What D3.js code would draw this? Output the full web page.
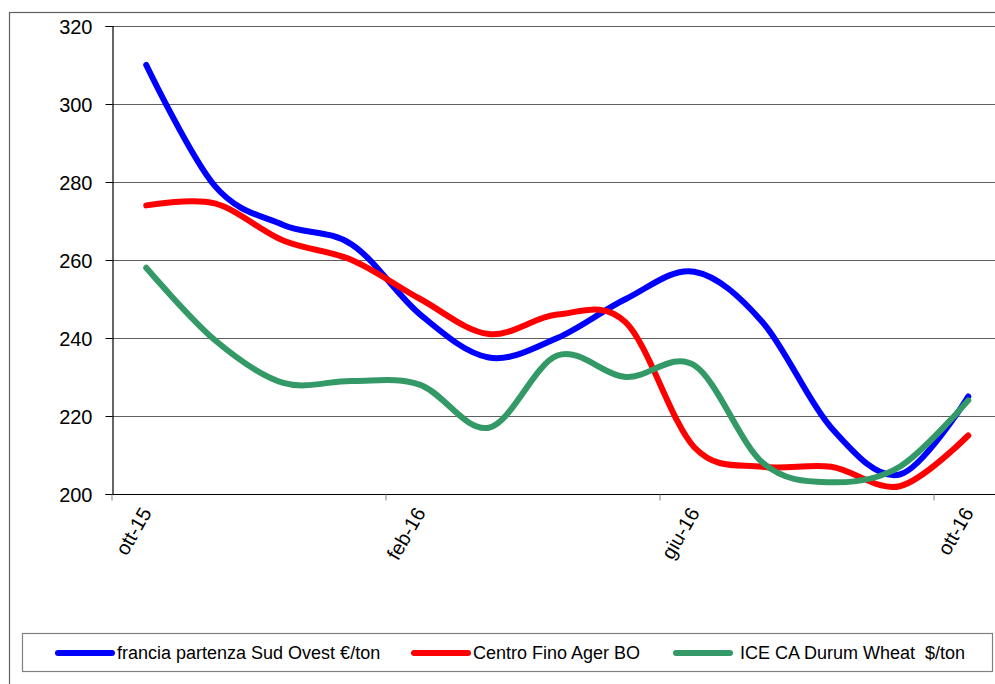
<!DOCTYPE html>
<html>
<head>
<meta charset="utf-8">
<script src="https://cdn.jsdelivr.net/npm/d3@7"></script>
<style>
  body { margin: 0; background: #fff; }
  svg text { font-family: "Liberation Sans", Arial, sans-serif; fill: #000; white-space: pre; }
</style>
</head>
<body>
<div id="chart"></div>
<script>
// months (category axis), one point per month
var months = ['ott-15','nov-15','dic-15','gen-16','feb-16','mar-16','apr-16',
              'mag-16','giu-16','lug-16','ago-16','set-16','ott-16'];
var labelMonths = ['ott-15','feb-16','giu-16','ott-16'];
var yTicks = [200, 220, 240, 260, 280, 300, 320];

var seriesNames = ['francia partenza Sud Ovest \u20ac/ton', 'Centro Fino Ager BO', 'ICE CA Durum Wheat  $/ton'];
var seriesColors = ['#0000ff', '#ff0000', '#339966'];

var francia = [310, 279, 269, 264, 246, 235, 240, 250, 257, 244, 217, 205, 225];
var centro  = [274, 274.5, 265, 260, 250, 241, 246, 244, 212, 207, 207, 202, 215];
var iceCA   = [258, 239.5, 228.5, 229, 228, 217, 235.5, 230, 233, 208, 203, 207, 224];

var allSeries = [francia, centro, iceCA];

var W = 995, H = 684;
var svg = d3.select('#chart').append('svg')
    .attr('width', W)
    .attr('height', H);

// outer chart frame (runs off the right/bottom edge)
svg.append('rect')
    .attr('x', 9.5).attr('y', 12.5)
    .attr('width', 1000).attr('height', 700)
    .attr('fill', 'none')
    .attr('stroke', '#606060')
    .attr('stroke-width', 1.2);

var xScale = d3.scaleBand()
    .domain(months)
    .range([112, 1002.5])
    .padding(0);
var bw = xScale.bandwidth();

var yScale = d3.scaleLinear()
    .domain([200, 320])
    .range([494, 26]);

// gridlines
svg.append('g')
    .selectAll('line')
    .data(yTicks.filter(function(d){ return d > 200; }))
    .enter()
    .append('line')
    .attr('x1', 112).attr('x2', W)
    .attr('y1', function(d){ return Math.round(yScale(d)) + 0.5; })
    .attr('y2', function(d){ return Math.round(yScale(d)) + 0.5; })
    .attr('stroke', '#5f5f5f')
    .attr('stroke-width', 1.2);

var yAxis = d3.axisLeft(yScale)
    .tickValues(yTicks)
    .tickSize(7)
    .tickPadding(13)
    .tickFormat(d3.format('d'));

var gy = svg.append('g')
    .attr('transform', 'translate(112.5,0)')
    .call(yAxis);
gy.select('.domain').attr('stroke', '#000').attr('stroke-width', 1.2);
gy.selectAll('.tick line').attr('stroke', '#000');
gy.selectAll('.tick text')
    .style('font-size', '20px')
    .attr('dy', '0.36em');

var xAxis = d3.axisBottom(xScale)
    .tickValues(labelMonths)
    .tickSize(6)
    .tickSizeOuter(0);

var gx = svg.append('g')
    .attr('transform', 'translate(0,494.5)')
    .call(xAxis);
gx.select('.domain')
    .attr('d', 'M112,0H' + W)
    .attr('stroke', '#000')
    .attr('stroke-width', 1.2);
// tick marks sit on the category boundary, labels on the category centre
gx.selectAll('.tick line')
    .attr('x1', -bw / 2).attr('x2', -bw / 2)
    .attr('stroke', '#808080');
gx.selectAll('.tick text')
    .style('font-size', '20px')
    .attr('text-anchor', 'end')
    .attr('y', 0)
    .attr('dy', 0)
    .attr('transform', 'translate(6,18) rotate(-60)');

var line = d3.line()
    .x(function(d, i){ return xScale(months[i]) + bw / 2; })
    .y(function(d){ return yScale(d); })
    .curve(d3.curveCardinal.tension(0));

svg.append('g')
    .selectAll('path')
    .data(allSeries)
    .enter()
    .append('path')
    .attr('d', line)
    .attr('fill', 'none')
    .attr('stroke', function(d, i){ return seriesColors[i]; })
    .attr('stroke-width', 6)
    .attr('stroke-linecap', 'round')
    .attr('stroke-linejoin', 'round');

// legend
var legend = svg.append('g');
legend.append('rect')
    .attr('x', 22.5).attr('y', 633.5)
    .attr('width', 970).attr('height', 38)
    .attr('fill', '#fff')
    .attr('stroke', '#808080')
    .attr('stroke-width', 1.2);

var legendX = [58, 414, 676];
var legendTextGap = [5, 5, 10];
var items = legend.selectAll('g.item')
    .data(seriesNames)
    .enter()
    .append('g')
    .attr('class', 'item')
    .attr('transform', function(d, i){ return 'translate(' + legendX[i] + ',653)'; });
items.append('line')
    .attr('x1', 0).attr('x2', 54)
    .attr('y1', 0).attr('y2', 0)
    .attr('stroke', function(d, i){ return seriesColors[i]; })
    .attr('stroke-width', 6)
    .attr('stroke-linecap', 'round');
items.append('text')
    .attr('x', function(d, i){ return 54 + legendTextGap[i]; })
    .attr('y', 0)
    .attr('dy', '0.35em')
    .style('font-size', '18px')
    .text(function(d){ return d; });
</script>
</body>
</html>
